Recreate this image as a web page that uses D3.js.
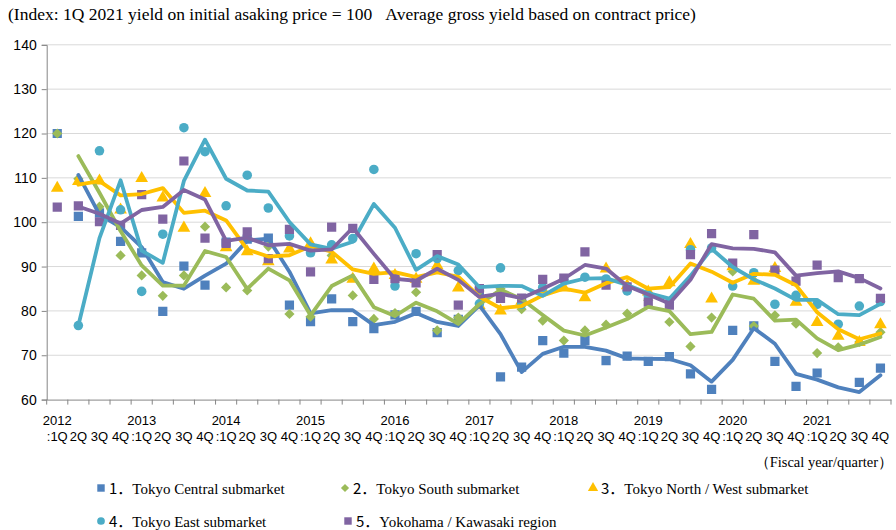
<!DOCTYPE html>
<html><head><meta charset="utf-8">
<script src="https://cdn.jsdelivr.net/npm/d3@7/dist/d3.min.js"></script>
<style>body{margin:0;background:#fff}svg{display:block}</style>
</head><body><svg id="c" width="896" height="530"></svg>
<script>
const years = ["2012","2013","2014","2015","2016","2017","2018","2019","2020","2021"];
const quarterLabels = [":1Q","2Q","3Q","4Q"];
const yTicks = [60,70,80,90,100,110,120,130,140];

const central   = [120,101.3,102.1,95.7,93.1,79.9,90.1,85.8,95.5,96.2,96.4,81.3,77.6,82.7,77.6,76.0,79.1,79.9,75.1,78.1,84.4,65.1,67.3,73.3,70.5,73.3,68.8,69.8,68.6,69.7,65.8,62.3,75.6,76.6,68.6,63.0,66.0,59.5,63.9,67.1];
const south     = [120,109.8,103.5,92.5,88.0,83.4,88.0,99.0,85.3,84.6,94.5,79.3,78.7,92.5,83.5,78.2,79.5,84.2,75.6,78.5,84.5,85.0,80.4,77.8,73.3,75.6,76.9,79.4,82.4,77.5,72.0,78.5,88.9,76.6,79.0,77.1,70.5,71.8,73.0,75.2];
const northWest = [107.7,109.2,109.3,102.8,109.9,105.5,98.7,106.5,94.3,93.4,91.1,94.0,95.2,91.5,87.2,89.5,88.0,87.2,90.2,85.2,81.2,80.0,82.2,84.8,85.2,83.0,89.5,85.7,84.3,86.4,95.0,82.7,90.0,86.7,89.6,82.0,77.4,74.3,72.9,76.9];
const east      = [null,76.7,116.1,102.8,84.4,97.3,121.3,115.9,103.7,110.6,103.2,96.9,93.1,94.9,96.3,111.9,85.6,92.9,91.8,89.1,81.6,89.7,81.5,85.3,87.0,87.6,87.2,84.5,83.5,82.0,93.8,94.2,85.6,88.6,81.5,83.5,81.5,77.0,81.1,82.1];
const yokohama  = [103.4,103.7,100.1,99.3,106.2,100.7,113.8,96.4,95.2,97.8,91.8,98.4,88.8,98.9,98.6,87.1,87.3,86.3,92.7,81.3,85.0,82.8,82.9,87.1,87.4,93.3,85.8,85.4,82.0,81.3,92.7,97.4,90.8,97.2,89.2,86.7,90.3,87.5,87.3,82.8];

const seriesNames = ["Tokyo Central submarket","Tokyo South submarket","Tokyo North / West submarket","Tokyo East submarket","Yokohama / Kawasaki region"];
const seriesValues = [central, south, northWest, east, yokohama];
const colors = ["#4F81BD","#9BBB59","#FFC000","#4BACC6","#8064A2"];
const squareDiamond = { draw(ctx, size){ const r = Math.sqrt(size/2); ctx.moveTo(0,-r); ctx.lineTo(r,0); ctx.lineTo(0,r); ctx.lineTo(-r,0); ctx.closePath(); } };
const shapes = [d3.symbolSquare, squareDiamond, d3.symbolTriangle, d3.symbolCircle, d3.symbolSquare];
const shapeSizes = [85, 52, 70, 72, 85];

const cats = [];
years.forEach(y => quarterLabels.forEach((q,i) => cats.push({key: y + q, year: i===0 ? y : "", q})));

const svg = d3.select("#c");
const L = 46.7, R = 891, T = 44.8, B = 399.6;
const x = d3.scaleBand().domain(cats.map(d=>d.key)).range([L,R]);
const y = d3.scaleLinear().domain([60,140]).range([B,T]);
const cx = k => x(k) + x.bandwidth()/2;

// title
svg.append("text").attr("x",8).attr("y",20)
  .attr("font-family","'Liberation Serif','Times New Roman',serif").attr("font-size",17.5).attr("fill","#000")
  .text("(Index: 1Q 2021 yield on initial asaking price = 100\u00a0\u00a0\u00a0Average gross yield based on contract price)");

// gridlines
svg.append("g").selectAll("line").data(yTicks.filter(t=>t>60)).join("line")
  .attr("x1",L).attr("x2",R).attr("y1",d=>y(d)).attr("y2",d=>y(d))
  .attr("stroke","#d9d9d9").attr("stroke-width",1);

// y axis
const yAxis = svg.append("g").attr("transform",`translate(${L},0)`)
  .call(d3.axisLeft(y).tickValues(yTicks).tickSize(5).tickPadding(5));
yAxis.select(".domain").attr("stroke","#868686");
yAxis.selectAll(".tick line").attr("stroke","#868686");
yAxis.selectAll("text").attr("font-family","'Liberation Sans',Arial,sans-serif").attr("font-size",14).attr("fill","#000");

// x axis
const xAxis = svg.append("g").attr("transform",`translate(0,${B})`)
  .call(d3.axisBottom(x).tickSize(0).tickFormat(""));
xAxis.select(".domain").attr("stroke","#868686");
const bounds = d3.range(cats.length+1).map(i => L + i*x.step());
svg.append("g").selectAll("line").data(bounds).join("line")
  .attr("x1",d=>d).attr("x2",d=>d).attr("y1",B).attr("y2",B+5).attr("stroke","#868686");
const xl = svg.append("g").attr("font-family","'Liberation Sans',Arial,sans-serif").attr("font-size",13).attr("fill","#000").attr("text-anchor","middle");
xl.selectAll("text.yr").data(cats.filter(d=>d.year)).join("text").attr("class","yr")
  .attr("x",d=>cx(d.key)).attr("y",425).text(d=>d.year);
xl.selectAll("text.q").data(cats).join("text").attr("class","q")
  .attr("x",d=>cx(d.key)).attr("y",441).text(d=>d.q);

svg.append("text").attr("x",893).attr("y",467).attr("text-anchor","end")
  .attr("font-family","'Liberation Serif','Times New Roman',serif").attr("font-size",14.5)
  .text("（Fiscal year/quarter）");

// clip
svg.append("clipPath").attr("id","pc").append("rect").attr("x",L).attr("y",T-8).attr("width",R-L).attr("height",B-T+8);

// markers
const mg = svg.append("g").attr("clip-path","url(#pc)");
seriesValues.forEach((vals, s) => {
  const pts = vals.map((v,i)=>({v, k: cats[i].key})).filter(d=>d.v!=null && d.v>=60 && d.v<=140);
  mg.append("g").selectAll("path").data(pts).join("path")
    .attr("d", d3.symbol().type(shapes[s]).size(shapeSizes[s]))
    .attr("transform", d=>`translate(${cx(d.k)},${y(d.v)})`)
    .attr("fill", colors[s]);
});

// 2-period moving average trendlines
const lg = svg.append("g").attr("clip-path","url(#pc)");
const line = d3.line().x(d=>cx(d.k)).y(d=>y(d.v));
seriesValues.forEach((vals, s) => {
  const ma = [];
  for (let i=1;i<vals.length;i++){
    const w = [vals[i-1], vals[i]].filter(v=>v!=null);
    if (w.length) ma.push({k: cats[i].key, v: d3.mean(w)});
  }
  lg.append("path").datum(ma).attr("d", line).attr("fill","none")
    .attr("stroke", colors[s]).attr("stroke-width",3.8).attr("stroke-linejoin","round").attr("stroke-linecap","round");
});

// legend
const legendPos = [[101,488],[345,488],[593,488],[101,521],[348,521]];
const leg = svg.append("g");
seriesNames.forEach((n,s) => {
  const [lx,ly] = legendPos[s];
  leg.append("path").attr("d", d3.symbol().type(shapes[s]).size(shapeSizes[s]*0.65))
    .attr("transform",`translate(${lx},${ly})`).attr("fill",colors[s]);
  const t = leg.append("text").attr("x",lx+8).attr("y",ly+6).attr("font-size",15).attr("fill","#000");
  t.append("tspan").attr("font-family","'Noto Sans CJK JP','Noto Sans',sans-serif").text((s+1)+"．");
  t.append("tspan").attr("font-family","'Liberation Serif','Times New Roman',serif").text(n);
});
</script></body></html>
